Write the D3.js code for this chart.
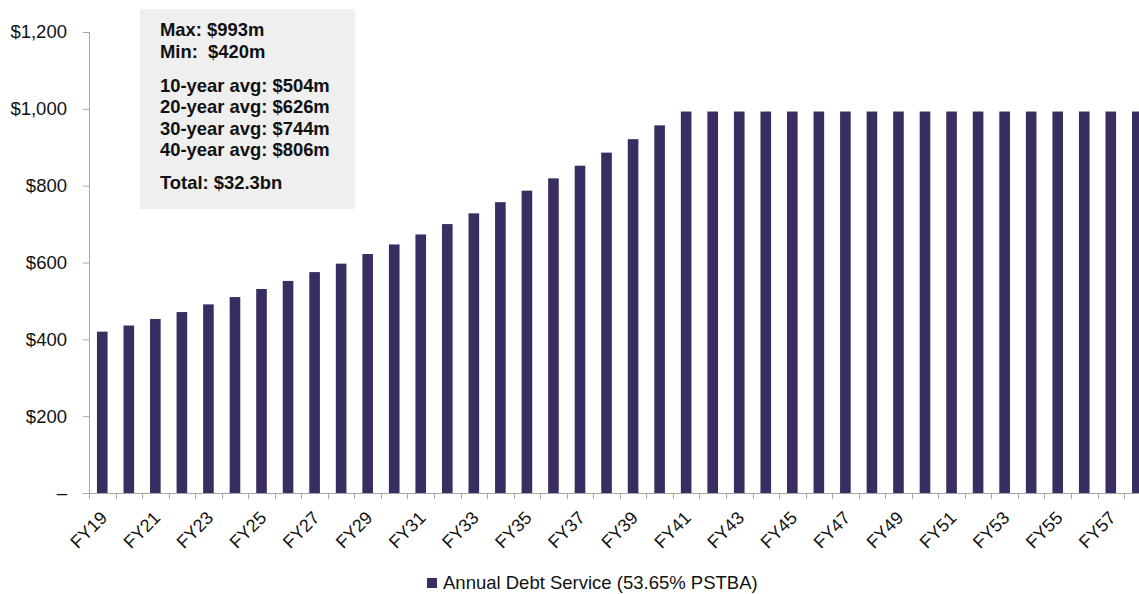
<!DOCTYPE html>
<html>
<head>
<meta charset="utf-8">
<script src="https://cdn.jsdelivr.net/npm/d3@7"></script>
<style>
  html, body { margin: 0; padding: 0; background: #fff; }
  svg { display: block; overflow: hidden; }
  text { font-family: "Liberation Sans", Arial, sans-serif; }
</style>
</head>
<body>
<svg id="chart" width="1139" height="594"></svg>
<script>
const width = 1139
const height = 594

// fiscal years FY19 .. FY58
const years = d3.range(19, 59).map(d => 'FY' + d)
const debtService = [
    420, 436, 453, 471, 491, 510, 531, 552, 575, 597,
    622, 647, 673, 700, 728, 757, 787, 819, 852, 886,
    921, 957, 993, 993, 993, 993, 993, 993, 993, 993,
    993, 993, 993, 993, 993, 993, 993, 993, 993, 993
]
const yTicks = [0, 200, 400, 600, 800, 1000, 1200]
const statLines = [
    'Max: $993m',
    'Min:  $420m',
    '10-year avg: $504m',
    '20-year avg: $626m',
    '30-year avg: $744m',
    '40-year avg: $806m',
    'Total: $32.3bn'
]
const seriesName = 'Annual Debt Service (53.65% PSTBA)'

const barColor = '#3a2d61'
const axisColor = '#a6a6a6'

const svg = d3.select('#chart')

const x0 = 89,
    step = 26.54,
    y0 = 493,
    yTop = 32;

const x = d3.scaleBand()
    .domain(years)
    .range([x0, x0 + step * years.length])
    .paddingInner(0.6)
    .paddingOuter(0.3);

const y = d3.scaleLinear()
    .domain([0, 1200])
    .range([y0, yTop]);

// stats box
svg.append('rect')
    .attr('x', 140).attr('y', 9)
    .attr('width', 215).attr('height', 200)
    .attr('fill', '#efefef');

const statY = [36, 57.7, 92, 113.3, 134.5, 155.7, 189];
svg.append('g')
    .selectAll('text')
    .data(statLines)
    .join('text')
    .attr('x', 160)
    .attr('y', (d, i) => statY[i])
    .attr('font-size', '18.4px')
    .attr('font-weight', 'bold')
    .attr('fill', '#111')
    .style('white-space', 'pre')
    .text(d => d);

// bars
svg.append('g')
    .selectAll('rect')
    .data(debtService)
    .join('rect')
    .attr('x', (d, i) => x(years[i]))
    .attr('y', d => y(d))
    .attr('width', x.bandwidth())
    .attr('height', d => y(0) - y(d))
    .attr('fill', barColor);

// y axis
const yAxis = svg.append('g')
    .attr('transform', `translate(${x0},0)`)
    .call(d3.axisLeft(y)
        .tickValues(yTicks)
        .tickSize(6)
        .tickPadding(16)
        .tickFormat(d => d === 0 ? '–' : '$' + d3.format(',')(d)));
yAxis.select('.domain').attr('stroke', axisColor).attr('d', `M0.5,${yTop}V${y0}`);
yAxis.selectAll('.tick line').attr('stroke', axisColor);
yAxis.selectAll('.tick text')
    .attr('font-size', '18.5px')
    .attr('font-family', '"Liberation Sans", Arial, sans-serif')
    .attr('fill', '#111');

// x axis: line + boundary ticks
const xAxisG = svg.append('g');
xAxisG.append('line')
    .attr('x1', x0).attr('x2', width)
    .attr('y1', y0 + 0.5).attr('y2', y0 + 0.5)
    .attr('stroke', axisColor);
xAxisG.selectAll('line.tk')
    .data(d3.range(years.length + 1))
    .join('line')
    .attr('class', 'tk')
    .attr('x1', i => Math.round(x.range()[0] + i * x.step()) + 0.5)
    .attr('x2', i => Math.round(x.range()[0] + i * x.step()) + 0.5)
    .attr('y1', y0)
    .attr('y2', y0 + 6)
    .attr('stroke', axisColor);

// x labels, every other year
const xLab = svg.append('g')
    .attr('transform', `translate(0,${y0})`)
    .call(d3.axisBottom(x)
        .tickValues(years.filter((d, i) => i % 2 === 0))
        .tickSize(0)
        .tickFormat(d => d));
xLab.select('.domain').remove();
xLab.selectAll('.tick text')
    .attr('font-size', '18px')
    .attr('font-family', '"Liberation Sans", Arial, sans-serif')
    .attr('fill', '#111')
    .attr('text-anchor', 'end')
    .attr('dy', null)
    .attr('y', 0)
    .attr('transform', 'translate(6,26) rotate(-45)');

// legend
const legend = svg.append('g');
legend.append('rect')
    .attr('x', 427).attr('y', 578)
    .attr('width', 10).attr('height', 10)
    .attr('fill', barColor);
legend.append('text')
    .attr('x', 443).attr('y', 589)
    .attr('font-size', '18.5px')
    .attr('fill', '#111')
    .text(seriesName);
</script>
</body>
</html>
